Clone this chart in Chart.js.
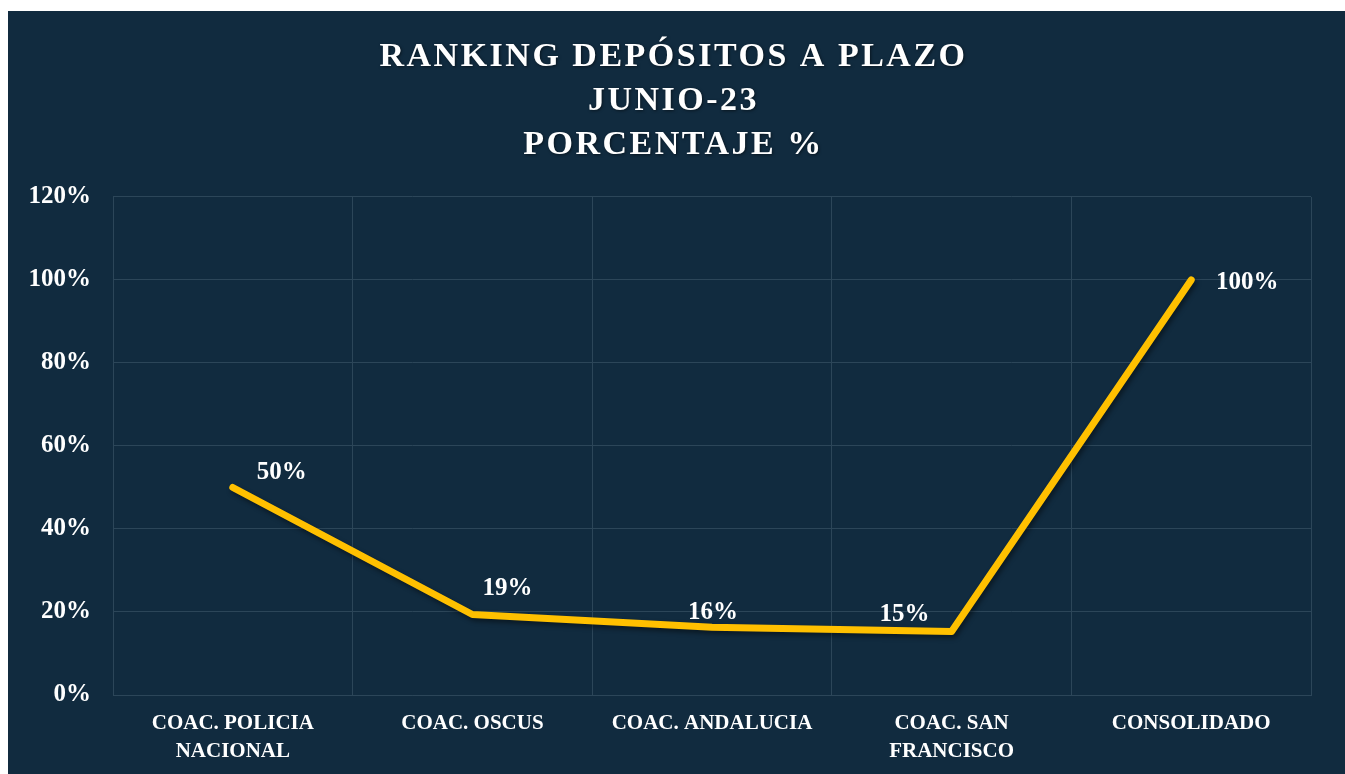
<!DOCTYPE html>
<html>
<head>
<meta charset="utf-8">
<script src="https://cdn.jsdelivr.net/npm/chart.js@4"></script>
<style>
  html, body { margin: 0; padding: 0; background: #ffffff; }
  #wrap { position: absolute; left: 8px; top: 11px; width: 1337px; height: 763px; background: #112B3F; }
  canvas { display: block; }
</style>
</head>
<body>
<div id="wrap"><canvas id="c" width="1337" height="763"></canvas></div>
<script>
const categories = [["COAC. POLICIA", "NACIONAL"], "COAC. OSCUS", "COAC. ANDALUCIA", ["COAC. SAN", "FRANCISCO"], "CONSOLIDADO"];
const values = [50, 19.4, 16.3, 15.3, 100];
const yTicks = [0, 20, 40, 60, 80, 100, 120];
const titleLines = ["RANKING DEPÓSITOS A PLAZO", "JUNIO-23", "PORCENTAJE %"];

const FONT = "'Liberation Serif', 'DejaVu Serif', serif";
const GRID = '#2C4659';
// label offsets (style only) relative to each point
const labelOffsets = [[49, -15], [35, -26], [1, -15], [-47, -17], [56, 3]];

const dataLabels = {
  id: 'dataLabels',
  afterDatasetsDraw(chart) {
    const ctx = chart.ctx;
    const meta = chart.getDatasetMeta(0);
    ctx.save();
    ctx.font = "bold 25px " + FONT;
    ctx.fillStyle = '#FFFFFF';
    ctx.textAlign = 'center';
    ctx.textBaseline = 'middle';
    meta.data.forEach((pt, i) => {
      const o = labelOffsets[i];
      ctx.fillText(Math.round(values[i]) + '%', pt.x + o[0], pt.y + o[1]);
    });
    ctx.restore();
  }
};

const lineShadow = {
  id: 'lineShadow',
  beforeDatasetDraw(chart) {
    const ctx = chart.ctx;
    ctx.save();
    ctx.shadowColor = 'rgba(0,0,0,0.45)';
    ctx.shadowBlur = 5;
    ctx.shadowOffsetX = 2;
    ctx.shadowOffsetY = 3;
  },
  afterDatasetDraw(chart) { chart.ctx.restore(); }
};

const chart = new Chart(document.getElementById('c'), {
  type: 'line',
  data: {
    labels: categories,
    datasets: [{
      data: values,
      borderColor: '#FFC000',
      borderWidth: 7,
      borderCapStyle: 'round',
      borderJoinStyle: 'round',
      pointRadius: 0,
      tension: 0,
      fill: false
    }]
  },
  plugins: [dataLabels, lineShadow],
  options: {
    responsive: false,
    animation: false,
    layout: { padding: { left: 0, right: 34, top: 0, bottom: 0 } },
    plugins: {
      legend: { display: false },
      tooltip: { enabled: false },
      title: {
        display: true,
        text: titleLines,
        color: '#FFFFFF',
        font: { family: FONT, size: 34, weight: 'bold', lineHeight: 1.294 },
        padding: { top: 24, bottom: 30 }
      }
    },
    scales: {
      x: {
        offset: true,
        grid: { offset: true, color: GRID, lineWidth: 1, drawTicks: false },
        border: { color: GRID },
        ticks: {
          color: '#FFFFFF',
          padding: 15,
          maxRotation: 0,
          autoSkip: false,
          font: { family: FONT, size: 21, weight: 'bold', lineHeight: 1.333 }
        },
        afterFit(s) { s.height = 79; }
      },
      y: {
        min: 0,
        max: 120,
        afterBuildTicks(s) { s.ticks = yTicks.map(v => ({ value: v })); },
        grid: { color: GRID, lineWidth: 1, drawTicks: false },
        border: { display: false },
        ticks: {
          color: '#FFFFFF',
          padding: 22,
          font: { family: FONT, size: 25, weight: 'bold' },
          callback: v => v + '%'
        },
        afterFit(s) { s.width = 105; }
      }
    }
  }
});

// wider letter spacing for the title only, centred on the full panel
const tb = chart.titleBlock;
const origDraw = tb.draw.bind(tb);
tb.draw = function () {
  const ctx = chart.ctx;
  ctx.save();
  ctx.translate(14, 0);
  ctx.letterSpacing = '2.5px';
  ctx.shadowColor = 'rgba(0,0,0,0.5)';
  ctx.shadowBlur = 3;
  ctx.shadowOffsetX = 1;
  ctx.shadowOffsetY = 1;
  origDraw();
  ctx.restore();
};
chart.draw();
</script>
</body>
</html>
